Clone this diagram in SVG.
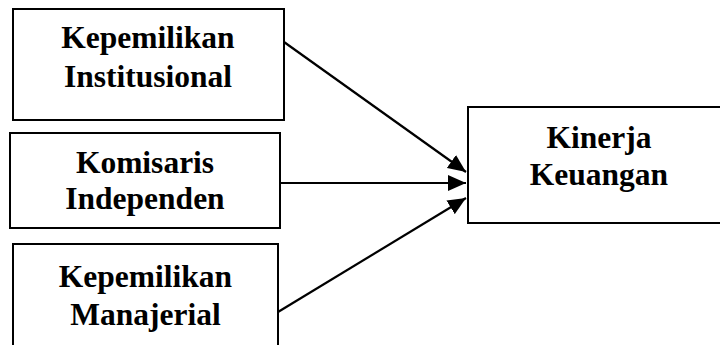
<svg xmlns="http://www.w3.org/2000/svg" width="720" height="345" viewBox="0 0 720 345">
<style>
.box{fill:#fff;stroke:#000;stroke-width:2}
.lbl{font-family:"Liberation Serif","Times New Roman",serif;font-weight:bold;font-size:31.5px;fill:#000;text-anchor:middle}
.conn{stroke:#000;stroke-width:2.2;fill:none;marker-end:url(#arr)}
</style>
<defs>
<marker id="arr" markerUnits="userSpaceOnUse" markerWidth="20" markerHeight="16" refX="18" refY="8" orient="auto">
<path d="M0,0 L18,8 L0,16 z" fill="#000"/>
</marker>
</defs>
<rect width="720" height="345" fill="#fff"/>
<g id="n1">
<rect class="box" x="13" y="9" width="271" height="111"/>
<text class="lbl" x="148" y="48">Kepemilikan</text>
<text class="lbl" x="148" y="87">Institusional</text>
</g>
<g id="n2">
<rect class="box" x="10" y="133" width="270" height="95"/>
<text class="lbl" x="145" y="173">Komisaris</text>
<text class="lbl" x="145" y="209">Independen</text>
</g>
<g id="n3">
<rect class="box" x="13" y="244" width="265" height="120"/>
<text class="lbl" x="145.5" y="287">Kepemilikan</text>
<text class="lbl" x="145.5" y="325">Manajerial</text>
</g>
<g id="n4">
<rect class="box" x="468" y="107" width="270" height="116"/>
<text class="lbl" x="599" y="148">Kinerja</text>
<text class="lbl" x="599" y="185">Keuangan</text>
</g>
<g id="connectors">
<line class="conn" x1="284" y1="42" x2="466" y2="172"/>
<line class="conn" x1="280" y1="183" x2="466" y2="183"/>
<line class="conn" x1="278" y1="312" x2="466" y2="198"/>
</g>
</svg>
